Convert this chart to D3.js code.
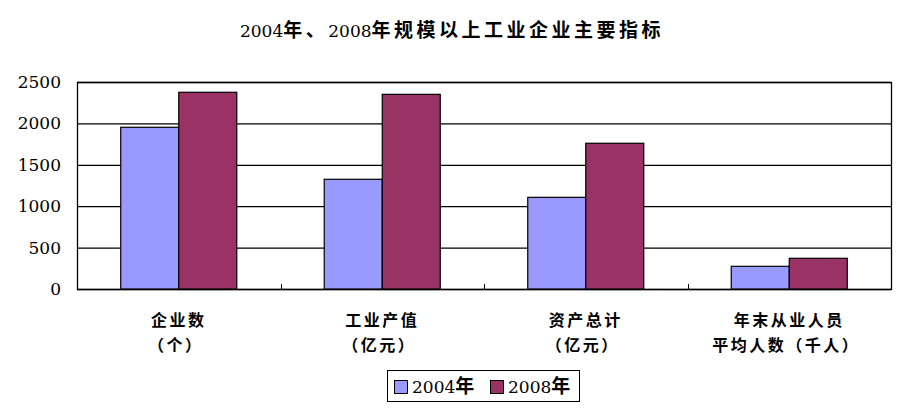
<!DOCTYPE html>
<html>
<head>
<meta charset="utf-8">
<script src="https://cdn.jsdelivr.net/npm/d3@7"></script>
<style>
  body { margin: 0; background: #fff; }
  svg { display: block; }
</style>
</head>
<body>
<div id="chart"></div>
<script>
// chart data
var categories = ["企业数", "工业产值", "资产总计", "年末从业人员"];
var catSub = ["（个）", "（亿元）", "（亿元）", "平均人数（千人）"];
var series = ["2004年", "2008年"];
var values2004 = [1953, 1325, 1107, 274];
var values2008 = [2376, 2351, 1760, 371];
var yTicks = [0, 500, 1000, 1500, 2000, 2500];
var colors = ["#9999ff", "#993366"];
var title = "2004年、2008年规模以上工业企业主要指标";

var W = 906, H = 411;
var pLeft = 77, pRight = 891, pTop = 82, pBottom = 289;

var svg = d3.select("#chart").append("svg")
  .attr("width", W)
  .attr("height", H);

var NUM_FONT = "'DejaVu Serif', serif";
var CJK_FONT = "'Noto Sans CJK SC', sans-serif";

// split a string into ascii / cjk runs so digits get the serif font
function addRuns(textSel, str, numSize, cjkSize, spacing) {
  var runs = str.match(/[\x00-\x7f]+|[^\x00-\x7f]+/g);
  runs.forEach(function (r) {
    var ascii = /^[\x00-\x7f]+$/.test(r);
    textSel.append("tspan")
      .text(r)
      .style("font-family", ascii ? NUM_FONT : CJK_FONT)
      .style("font-weight", ascii ? "normal" : "bold")
      .style("font-size", (ascii ? numSize : cjkSize) + "px")
      .style("letter-spacing", ascii ? "0px" : spacing + "px");
  });
}

var x0 = d3.scaleBand().domain(categories).range([pLeft, pRight]).padding(0);
var x1 = d3.scaleBand().domain(series).range([0, x0.step()]).paddingInner(0).paddingOuter(0.754);
var y = d3.scaleLinear().domain([0, 2500]).range([pBottom, pTop]);

// title
var t = svg.append("text")
  .attr("x", 452)
  .attr("y", 37)
  .attr("text-anchor", "middle");
addRuns(t, title, 17, 19, 3.5);

// gridlines
svg.append("g")
  .selectAll("line")
  .data(yTicks)
  .join("line")
  .attr("x1", pLeft)
  .attr("x2", pRight)
  .attr("y1", function (d) { return y(d) + 0.5; })
  .attr("y2", function (d) { return y(d) + 0.5; })
  .attr("stroke", "#000")
  .attr("stroke-width", 1.3);

// plot border
svg.append("rect")
  .attr("x", pLeft + 0.5)
  .attr("y", pTop + 0.5)
  .attr("width", pRight - pLeft)
  .attr("height", pBottom - pTop)
  .attr("fill", "none")
  .attr("stroke", "#000")
  .attr("stroke-width", 1.3);

// category boundary ticks
svg.append("g")
  .selectAll("line")
  .data(categories.slice(1))
  .join("line")
  .attr("x1", function (d) { return Math.round(x0(d)) + 0.5; })
  .attr("x2", function (d) { return Math.round(x0(d)) + 0.5; })
  .attr("y1", pBottom - 5)
  .attr("y2", pBottom)
  .attr("stroke", "#000");

// y tick labels
svg.append("g")
  .selectAll("text")
  .data(yTicks)
  .join("text")
  .attr("x", 61)
  .attr("y", function (d) { return y(d) + 6; })
  .attr("text-anchor", "end")
  .style("font-family", NUM_FONT)
  .style("font-size", "17px")
  .text(function (d) { return d; });

// bars
var rows = categories.map(function (c, i) {
  return { cat: c, vals: [values2004[i], values2008[i]] };
});

svg.append("g")
  .selectAll("g")
  .data(rows)
  .join("g")
  .attr("transform", function (d) { return "translate(" + x0(d.cat) + ",0)"; })
  .selectAll("rect")
  .data(function (d) {
    return d.vals.map(function (v, j) { return { s: series[j], v: v, j: j }; });
  })
  .join("rect")
  .attr("x", function (d) { return x1(d.s); })
  .attr("y", function (d) { return y(d.v); })
  .attr("width", x1.bandwidth())
  .attr("height", function (d) { return pBottom - y(d.v); })
  .attr("fill", function (d) { return colors[d.j]; })
  .attr("stroke", "#000")
  .attr("stroke-width", 1.2);

// category labels
var labels = svg.append("g")
  .selectAll("text")
  .data(categories)
  .join("text")
  .attr("text-anchor", "middle")
  .style("font-family", CJK_FONT)
  .style("font-weight", "bold")
  .style("font-size", "16px")
  .style("letter-spacing", "2.5px");

labels.append("tspan")
  .attr("x", function (d) { return x0(d) + x0.bandwidth() / 2; })
  .attr("y", 326)
  .text(function (d) { return d; });

labels.append("tspan")
  .attr("x", function (d) { return x0(d) + x0.bandwidth() / 2 - 3; })
  .attr("y", 351)
  .text(function (d, i) { return catSub[i]; });

// legend
var lg = svg.append("g");
lg.append("rect")
  .attr("x", 387.5)
  .attr("y", 370.5)
  .attr("width", 192)
  .attr("height", 31)
  .attr("fill", "#fff")
  .attr("stroke", "#000");

var legX = [394, 490];
series.forEach(function (s, i) {
  lg.append("rect")
    .attr("x", legX[i] + 0.5)
    .attr("y", 380.5)
    .attr("width", 13)
    .attr("height", 13)
    .attr("fill", colors[i])
    .attr("stroke", "#000");
  var lt = lg.append("text")
    .attr("x", legX[i] + 18)
    .attr("y", 393);
  addRuns(lt, s, 17, 19, 0);
});
</script>
</body>
</html>
